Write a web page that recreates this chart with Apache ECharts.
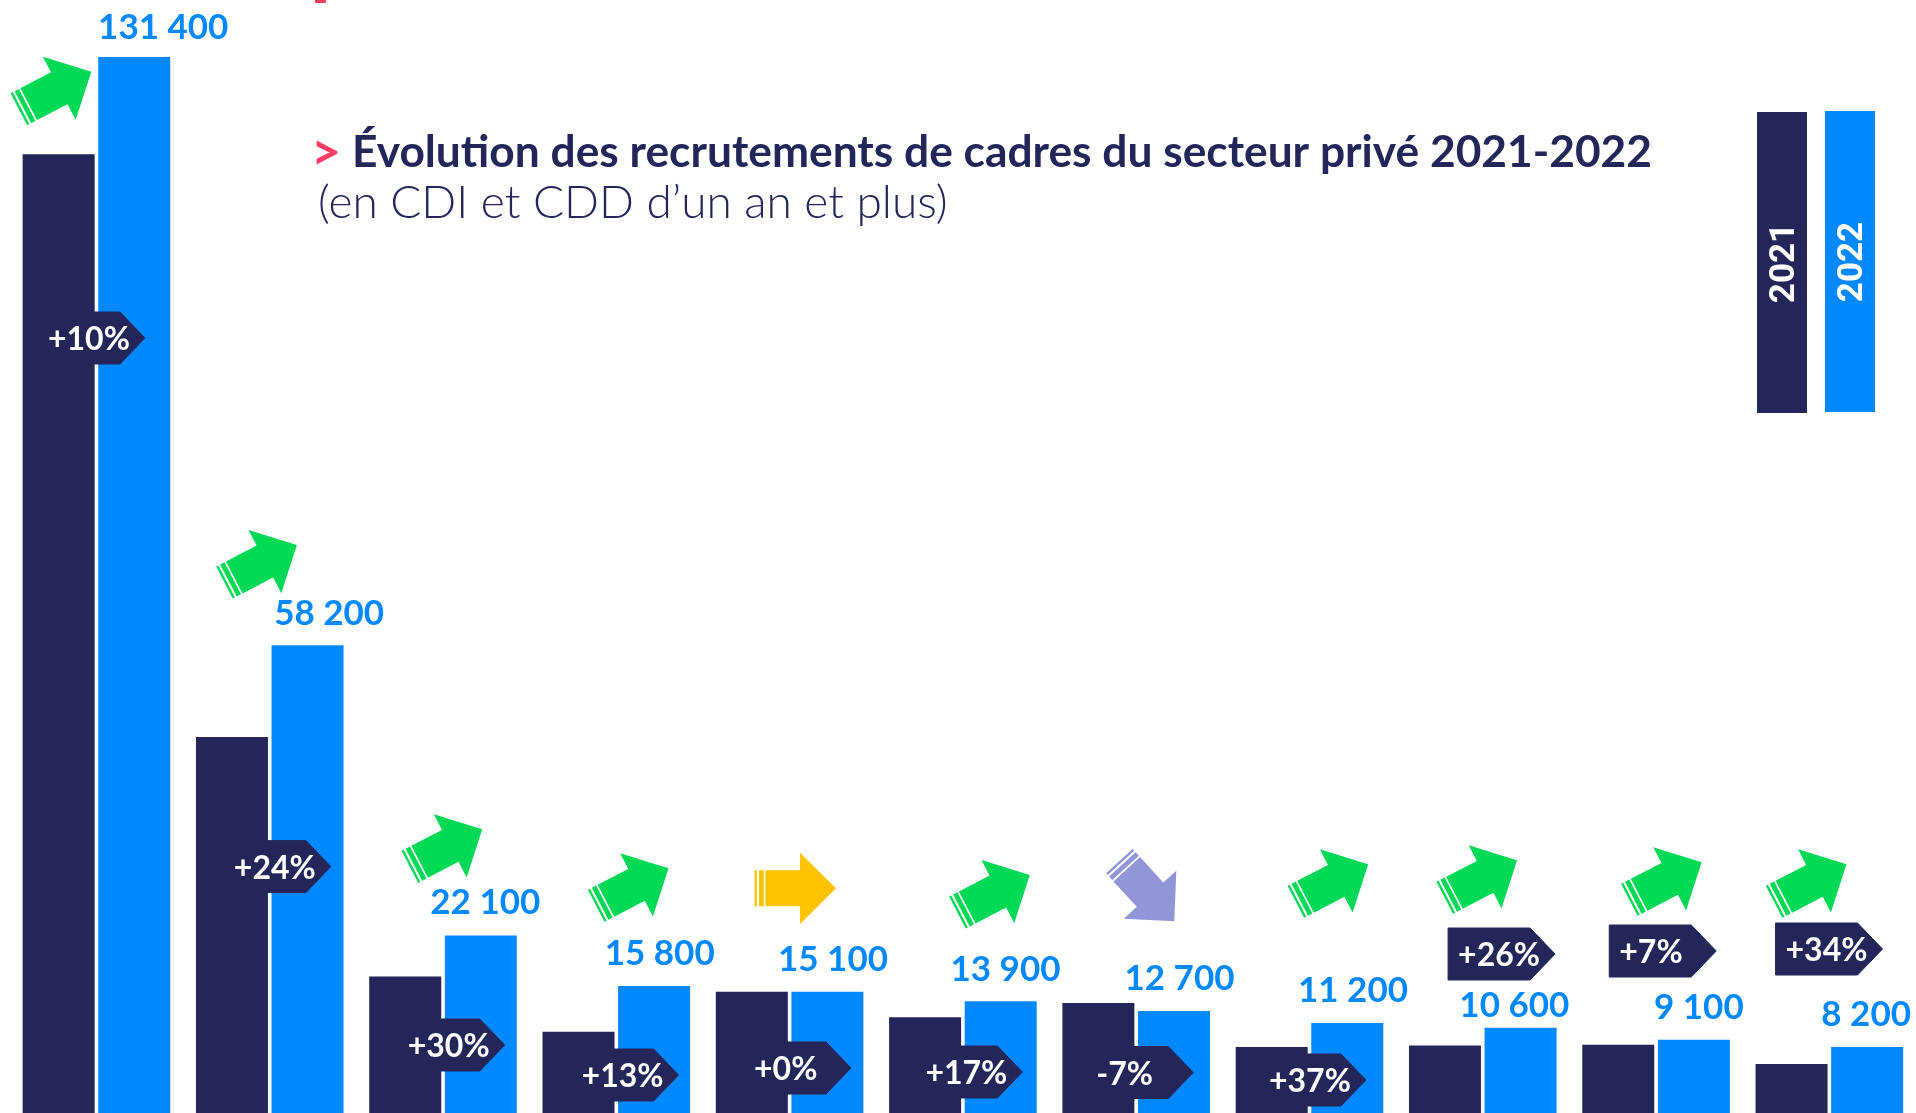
<!DOCTYPE html>
<html>
<head>
<meta charset="utf-8">
<title>Évolution des recrutements de cadres</title>
<script src="https://cdn.jsdelivr.net/npm/echarts@6/dist/echarts.min.js"></script>
<style>
html, body {margin: 0; padding: 0; background: #fff; overflow: hidden;}
#chart {width: 1916px; height: 1113px;}
</style>
</head>
<body>
<div id="chart"></div>
<script>
// values (the sector names are cropped out of it)
const categories = ['1', '2', '3', '4', '5', '6', '7', '8', '9', '10', '11'];
const values_2021 = [119300, 46800, 17000, 10100, 15100, 11900, 13700, 8200, 8400, 8500, 6100];
const values_2022 = [131400, 58200, 22100, 15800, 15100, 13900, 12700, 11200, 10600, 9100, 8200];
const changes = [10, 24, 30, 13, 0, 17, -7, 37, 26, 7, 34];
const value_labels = ['131 400', '58 200', '22 100', '15 800', '15 100', '13 900', '12 700', '11 200', '10 600', '9 100', '8 200'];
const years = ['2021', '2022'];
const title_text = 'Évolution des recrutements de cadres du secteur privé 2021-2022';
const subtitle_text = '(en CDI et CDD d’un an et plus)';

// placement of the annotations: dx from the centre of the band, y in pixels
const label_dx = [29, 21.6, 4.5, 5.6, 5.6, 4.8, 5.5, 5.7, -6.2, 5, -1];
const label_dy = [-7, -9.5, -10, -9.5, -9, -9, -9.5, -9.5, 0, -10, -9.5];
const tag_dx = [48.5, 61.1, 61.7, 62.3, 61.4, 59.5, 57.1, 56.5, 72.3, 60.2, 53.2];
const tag_y = [338, 866.6, 1045, 1075, 1068, 1072, 1072.5, 1080, 954, 951, 949];
const arrow_dx = [-5.2, 27.1, 39.2, 52.2, 46.4, 66.9, 38.1, 58.7, 34.3, 45.6, 17.1];
const arrow_y = [71.7, 545, 829.3, 868.3, 888.3, 875, 921.3, 864.3, 860.3, 862.3, 864.3];

const DARK = '#24265a';
const BLUE = '#0088ff';
const PINK = '#ff3d63';
const FONT = 'Lato';

function format_change(v) {
    return (v < 0 ? '' : '+') + v + '%';
}
function arrow_style(v) {
    if (v > 0) return {color: '#00d955', rotation: 27.4 * Math.PI / 180};
    if (v < 0) return {color: '#9396d6', rotation: -47.6 * Math.PI / 180};
    return {color: '#ffc300', rotation: 0};
}
function render_arrow(params, api) {
    var i = api.value(0);
    var v = api.value(1);
    var style = arrow_style(v);
    var cx = api.coord([i, 0])[0];
    return {
        type: 'group',
        x: cx + arrow_dx[i],
        y: arrow_y[i],
        rotation: style.rotation,
        children: [
            {type: 'polygon', shape: {points: [[0, 0], [-36, -35.6], [-36, -18], [-70.5, -18], [-70.5, 18], [-36, 18], [-36, 35.6]]}, style: {fill: style.color}},
            {type: 'rect', shape: {x: -77, y: -18, width: 4.8, height: 36}, style: {fill: style.color}},
            {type: 'rect', shape: {x: -81.5, y: -18, width: 2.4, height: 36}, style: {fill: style.color}},
        ],
    };
}
function render_tag(params, api) {
    var i = api.value(0);
    var cx = api.coord([i, 0])[0];
    return {
        type: 'group',
        x: cx + tag_dx[i],
        y: tag_y[i],
        children: [
            {type: 'polygon', shape: {points: [[-107, -26], [-25, -26], [0, 0], [-25, 26], [-107, 26]]}, style: {fill: DARK, stroke: DARK, lineWidth: 1, lineJoin: 'round'}},
            {type: 'text', style: {x: -97, y: 2, text: format_change(api.value(1)), fill: '#fff', font: '700 32px ' + FONT, textAlign: 'left', textVerticalAlign: 'middle'}},
        ],
    };
}
function legend_item(x, y, color, text) {
    return {
        type: 'group',
        children: [
            {type: 'rect', shape: {x: x, y: y, width: 50, height: 301}, style: {fill: color}},
            {type: 'text', x: x + 28, y: y + 151, rotation: Math.PI / 2, style: {text: text, fill: '#fff', font: '700 35px Roboto', textAlign: 'center', textVerticalAlign: 'middle'}},
        ],
    };
}

var chart = echarts.init(document.getElementById('chart'), null, {renderer: 'canvas'});
chart.setOption({
    animation: false,
    backgroundColor: '#fff',
    title: [
        {
            left: 311,
            top: 127,
            padding: 0,
            text: '{p|>}{b|' + title_text + '}',
            textStyle: {
                rich: {
                    p: {fontFamily: FONT, fontWeight: 700, fontSize: 52, color: PINK, width: 41},
                    b: {fontFamily: FONT, fontWeight: 700, fontSize: 44.3, color: DARK},
                },
            },
        },
        {
            left: 318,
            top: 180,
            padding: 0,
            text: subtitle_text,
            textStyle: {fontFamily: FONT, fontWeight: 300, fontSize: 46, color: DARK},
        },
    ],
    grid: {left: 9.8, top: 57, width: 1907.4, height: 1058},
    xAxis: {type: 'category', data: categories, show: false},
    yAxis: {type: 'value', min: 0, max: 131400, show: false},
    graphic: [
        {type: 'rect', shape: {x: 315, y: 0, width: 11, height: 3}, style: {fill: PINK}},
        legend_item(1757, 112, DARK, years[0]),
        legend_item(1825, 111, BLUE, years[1]),
    ],
    series: [
        {
            type: 'bar',
            name: years[0],
            data: values_2021,
            barWidth: 72,
            barGap: '5%',
            itemStyle: {color: DARK},
        },
        {
            type: 'bar',
            name: years[1],
            barWidth: 72,
            barGap: '5%',
            itemStyle: {color: BLUE},
            data: values_2022.map((v, i) => ({
                value: v,
                label: {
                    show: true,
                    position: 'top',
                    offset: [label_dx[i], label_dy[i]],
                    formatter: value_labels[i],
                    fontFamily: FONT,
                    fontWeight: 700,
                    fontSize: 35,
                    color: BLUE,
                },
            })),
        },
        {
            type: 'custom',
            name: 'arrows',
            renderItem: render_arrow,
            data: changes.map((v, i) => [i, v]),
            encode: {x: 0},
            silent: true,
            clip: false,
            z: 5,
        },
        {
            type: 'custom',
            name: 'tags',
            renderItem: render_tag,
            data: changes.map((v, i) => [i, v]),
            encode: {x: 0},
            silent: true,
            clip: false,
            z: 6,
        },
    ],
});
</script>
</body>
</html>
